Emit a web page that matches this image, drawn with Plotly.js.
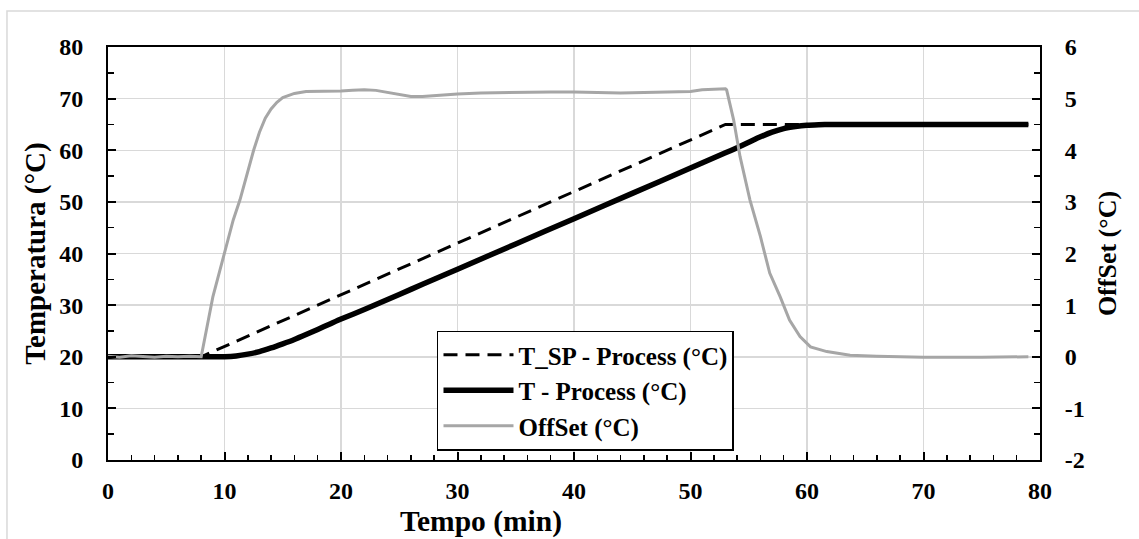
<!DOCTYPE html>
<html>
<head>
<meta charset="utf-8">
<script src="https://cdn.plot.ly/plotly-3.0.1.min.js"></script>
<style>
  html, body { margin: 0; padding: 0; background: #ffffff; }
  #chart { width: 1139px; height: 539px; }
</style>
</head>
<body>
<div id="chart"></div>
<script>
// ---- Data ----
const spTime = [0, 8, 53, 79];
const spValues = [20, 20, 65, 65];

const tTime = [0, 2, 4, 6, 8, 10, 11, 12, 13, 14, 15, 16, 17, 18, 19, 20, 22, 24, 26, 28, 30, 35, 40, 45, 50, 53, 54, 55, 56, 57, 58, 59, 60, 61, 62, 65, 70, 75, 79];
const tValues = [20, 20, 20, 20, 20, 20.0, 20.15, 20.5, 21.0, 21.7, 22.5, 23.35, 24.3, 25.3, 26.3, 27.3, 29.15, 31.1, 33.05, 35.0, 36.95, 41.85, 46.75, 51.65, 56.55, 59.5, 60.5, 61.55, 62.6, 63.5, 64.2, 64.6, 64.85, 64.95, 65, 65, 65, 65, 65];

const offTime = [0, 1, 2, 3, 4, 5, 6, 7, 8, 9, 10, 10.75, 11.33, 12, 12.5, 13, 13.5, 14, 14.5, 15, 16, 17, 18, 19, 20, 21, 22, 23, 24, 25, 26, 27, 28, 29, 30, 32, 34, 36, 38, 40, 42, 44, 46, 48, 50, 51, 52, 53, 53.1, 53.7, 54.25, 55.1, 56, 56.8, 57.7, 58.5, 59.4, 60.3, 61.7, 63.7, 66, 70, 75, 79];
const offValues = [0.01, -0.01, 0.02, 0.0, -0.01, 0.01, 0.0, 0.01, 0.0, 1.16, 2.0, 2.65, 3.04, 3.6, 4.0, 4.35, 4.62, 4.8, 4.93, 5.02, 5.1, 5.14, 5.14, 5.15, 5.15, 5.16, 5.17, 5.16, 5.12, 5.08, 5.04, 5.04, 5.06, 5.08, 5.09, 5.11, 5.12, 5.12, 5.13, 5.13, 5.12, 5.11, 5.12, 5.13, 5.14, 5.17, 5.18, 5.19, 5.17, 4.59, 3.88, 3.04, 2.33, 1.62, 1.16, 0.71, 0.39, 0.19, 0.1, 0.03, 0.01, -0.01, -0.01, 0.0];

const xTicks = [0, 10, 20, 30, 40, 50, 60, 70, 80];
const yTicks = [0, 10, 20, 30, 40, 50, 60, 70, 80];
const y2Ticks = [-2, -1, 0, 1, 2, 3, 4, 5, 6];
const y2TickLabels = ['-2', '-1', '0', '1', '2', '3', '4', '5', '6'];

const seriesNames = ['T_SP - Process (°C)', 'T - Process (°C)', 'OffSet (°C)'];
const xTitle = 'Tempo (min)';
const yTitle = 'Temperatura (°C)';
const y2Title = 'OffSet (°C)';

// ---- Chart ----
function F(size) {
  return { family: 'Liberation Serif', size: size, color: '#000000', weight: 700 };
}
const gridColor = '#d9d9d9';

const traces = [
  { x: spTime, y: spValues, name: seriesNames[0], type: 'scatter', mode: 'lines',
    line: { color: '#000000', width: 3, dash: '14px,8px' }, xaxis: 'x', yaxis: 'y' },
  { x: tTime, y: tValues, name: seriesNames[1], type: 'scatter', mode: 'lines',
    line: { color: '#000000', width: 5.5, shape: 'spline', smoothing: 0.6 }, xaxis: 'x', yaxis: 'y' },
  { x: offTime, y: offValues, name: seriesNames[2], type: 'scatter', mode: 'lines',
    line: { color: '#a6a6a6', width: 3 }, xaxis: 'x', yaxis: 'y2' }
];

const layout = {
  width: 1139, height: 539,
  paper_bgcolor: '#ffffff', plot_bgcolor: '#ffffff',
  font: F(24),
  margin: { l: 108, r: 99, t: 47, b: 79, pad: 0 },
  showlegend: true,
  legend: {
    x: 0.353, y: 0.3135, xanchor: 'left', yanchor: 'top',
    bgcolor: '#ffffff', bordercolor: '#000000', borderwidth: 1.5,
    font: F(25),
    itemwidth: 70, tracegroupgap: 0
  },
  xaxis: {
    range: [0, 80], tickvals: xTicks, ticktext: xTicks.map(String),
    showgrid: true, gridcolor: gridColor, gridwidth: 1.5,
    showline: true, linecolor: '#000000', linewidth: 2, mirror: true,
    ticks: 'inside', ticklen: 8, tickwidth: 2, tickcolor: '#000000',
    minor: { dtick: 2, tick0: 0, ticks: 'inside', ticklen: 5, tickwidth: 1.5, tickcolor: '#000000', showgrid: false },
    zeroline: false, ticklabelstandoff: 8,
    tickfont: F(24)
  },
  yaxis: {
    range: [0, 80], tickvals: yTicks, ticktext: yTicks.map(String),
    showgrid: true, gridcolor: gridColor, gridwidth: 1.5,
    showline: true, linecolor: '#000000', linewidth: 2,
    ticks: 'inside', ticklen: 8, tickwidth: 2, tickcolor: '#000000',
    minor: { dtick: 5, tick0: 0, ticks: 'inside', ticklen: 6, tickwidth: 1.5, tickcolor: '#000000', showgrid: false },
    zeroline: false, ticklabelstandoff: 18,
    tickfont: F(24),
    title: { text: yTitle, font: F(29), standoff: 5 }
  },
  yaxis2: {
    range: [-2, 6], overlaying: 'y', side: 'right',
    tickvals: y2Ticks, ticktext: y2TickLabels,
    showgrid: false,
    showline: true, linecolor: '#000000', linewidth: 2,
    ticks: 'inside', ticklen: 8, tickwidth: 2, tickcolor: '#000000',
    minor: { dtick: 0.5, tick0: 0, ticks: 'inside', ticklen: 6, tickwidth: 1.5, tickcolor: '#000000', showgrid: false },
    zeroline: false, ticklabelstandoff: 18,
    tickfont: F(24),
    title: { text: y2Title, font: F(26), standoff: 14 }
  },
  annotations: [
    { text: xTitle, xref: 'paper', yref: 'paper', x: (481 - 108) / 932, y: (460 - 521) / 413,
      xanchor: 'center', yanchor: 'middle', showarrow: false, font: F(29.5) }
  ],
  shapes: [
    { type: 'rect', xref: 'paper', yref: 'paper', x0: -0.1084, x1: 1.2, y0: -0.3, y1: 1.0872,
      line: { color: '#d9d9d9', width: 1.5 }, fillcolor: 'rgba(0,0,0,0)', layer: 'below' }
  ]
};

Plotly.newPlot('chart', traces, layout, { displayModeBar: false, staticPlot: true });
</script>
</body>
</html>
